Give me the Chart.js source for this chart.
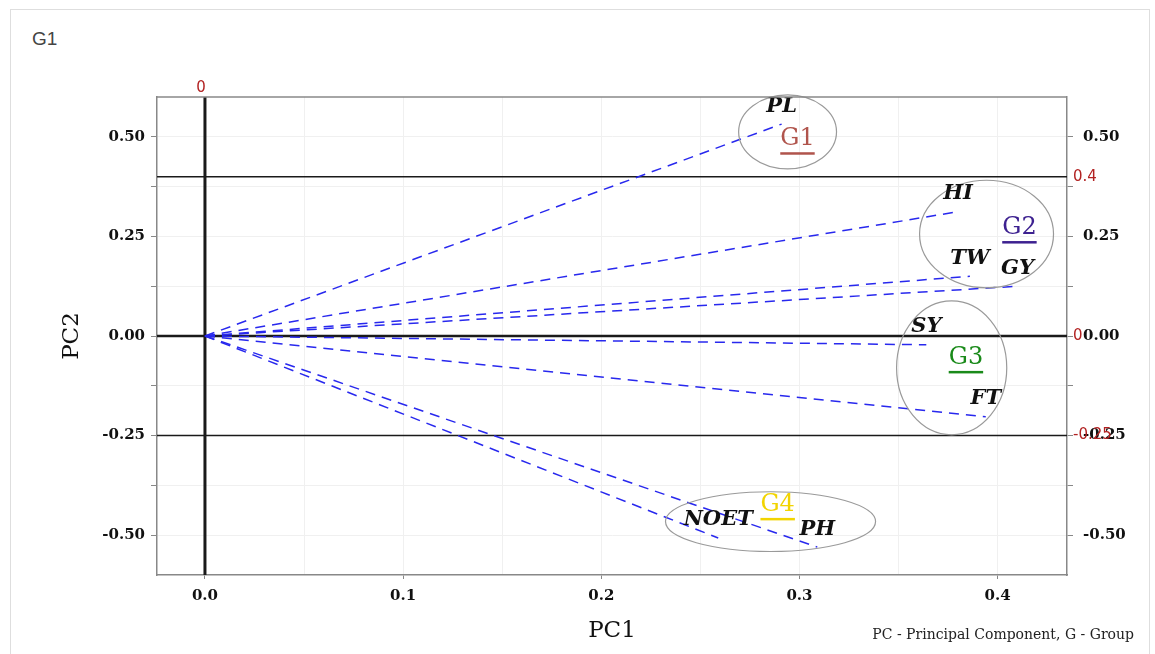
<!DOCTYPE html>
<html>
<head>
<meta charset="utf-8">
<title>G1</title>
<script src="https://cdn.jsdelivr.net/npm/chart.js@4.4.1/dist/chart.umd.min.js"></script>
<style>
    body { margin: 0; background: #fff; }
    #cadre { position: absolute; left: 10px; top: 9px; width: 1138px; height: 700px; border: 1px solid #dedede; }
    #titre { position: absolute; left: 32px; top: 28px; font: 19px "Liberation Sans", Arial, sans-serif; color: #444; }
    #zone { position: absolute; left: 0; top: 0; width: 1155px; height: 654px; }
    #note { position: absolute; right: 21px; top: 627px; font: 14px "DejaVu Serif", serif; line-height: 14px; color: #222; }
</style>
</head>
<body>
<div id="cadre"></div>
<div id="titre">G1</div>
<div id="zone"><canvas id="graphe"></canvas></div>
<div id="note">PC - Principal Component, G - Group</div>
<script>
// caracteres et coordonnees sur PC1 / PC2
const caracteres = ["PL", "HI", "TW", "GY", "SY", "FT", "NOET", "PH"];
const pc1 = [0.291, 0.380, 0.386, 0.410, 0.364, 0.394, 0.259, 0.309];
const pc2 = [0.532, 0.312, 0.150, 0.125, -0.022, -0.203, -0.507, -0.530];

// graduations
const ticksX = [0, 0.05, 0.1, 0.15, 0.2, 0.25, 0.3, 0.35, 0.4];
const ticksY = [-0.5, -0.375, -0.25, -0.125, 0, 0.125, 0.25, 0.375, 0.5];

// lignes de reference
const lignesY = [0.4, 0, -0.25];
const lignesX = [0];

// groupes (ellipses en unites des axes)
const groupes = ["G1", "G2", "G3", "G4"];
const couleursGroupes = ["#b0544c", "#3d2190", "#1a8a1a", "#f2d400"];
const groupesCx = [0.294, 0.3944, 0.3768, 0.2854];
const groupesCy = [0.5125, 0.256, -0.080, -0.466];
const groupesRx = [0.0247, 0.0338, 0.0278, 0.053];
const groupesRy = [0.093, 0.135, 0.168, 0.075];
const groupesTexteX = [0.299, 0.411, 0.384, 0.289];
const groupesTexteY = [0.494, 0.271, -0.055, -0.424];

const rouge = "#b22222";

function estMultiple(v, pas) {
    return Math.abs(v / pas - Math.round(v / pas)) < 1e-9;
}

const decor = {
    id: "decor",
    beforeDatasetsDraw(chart) {
        const { ctx, chartArea: a, scales: { x, y } } = chart;
        ctx.save();
        ctx.strokeStyle = "#1a1a1a";
        lignesY.forEach(function (v) {
            const py = y.getPixelForValue(v);
            ctx.lineWidth = v === 0 ? 2.5 : 1.5;
            ctx.beginPath();
            ctx.moveTo(a.left, py);
            ctx.lineTo(a.right, py);
            ctx.stroke();
        });
        lignesX.forEach(function (v) {
            const px = x.getPixelForValue(v);
            ctx.lineWidth = 3;
            ctx.beginPath();
            ctx.moveTo(px, a.top);
            ctx.lineTo(px, a.bottom);
            ctx.stroke();
        });
        ctx.restore();
    },
    afterDatasetsDraw(chart) {
        const { ctx, scales: { x, y } } = chart;
        ctx.save();
        // ellipses des groupes
        ctx.strokeStyle = "#9a9a9a";
        ctx.lineWidth = 1.2;
        for (let i = 0; i < groupes.length; i++) {
            const cx = x.getPixelForValue(groupesCx[i]);
            const cy = y.getPixelForValue(groupesCy[i]);
            const rx = Math.abs(x.getPixelForValue(groupesCx[i] + groupesRx[i]) - cx);
            const ry = Math.abs(y.getPixelForValue(groupesCy[i] + groupesRy[i]) - cy);
            ctx.beginPath();
            ctx.ellipse(cx, cy, rx, ry, 0, 0, Math.PI * 2);
            ctx.stroke();
        }
        // noms des caracteres
        ctx.fillStyle = "#111";
        ctx.font = "italic bold 21px 'DejaVu Serif'";
        ctx.textAlign = "center";
        ctx.textBaseline = "middle";
        for (let i = 0; i < caracteres.length; i++) {
            ctx.fillText(caracteres[i], x.getPixelForValue(pc1[i]), y.getPixelForValue(pc2[i]) - 18);
        }
        // noms des groupes soulignes
        ctx.font = "24px 'DejaVu Serif'";
        for (let i = 0; i < groupes.length; i++) {
            const px = x.getPixelForValue(groupesTexteX[i]);
            const py = y.getPixelForValue(groupesTexteY[i]);
            const w = ctx.measureText(groupes[i]).width;
            ctx.fillStyle = couleursGroupes[i];
            ctx.fillText(groupes[i], px, py);
            ctx.fillRect(px - w / 2, py + 13, w, 2.5);
        }
        ctx.restore();
    },
    afterDraw(chart) {
        const { ctx, chartArea: a, scales: { x, y } } = chart;
        ctx.save();
        // bord du haut
        ctx.strokeStyle = "#888";
        ctx.lineWidth = 1.5;
        ctx.beginPath();
        ctx.moveTo(a.left, a.top);
        ctx.lineTo(a.right, a.top);
        ctx.stroke();
        // valeurs des lignes de reference en rouge
        ctx.fillStyle = rouge;
        ctx.font = "15px 'DejaVu Sans'";
        ctx.textBaseline = "middle";
        ctx.textAlign = "left";
        lignesY.forEach(function (v) {
            ctx.fillText(String(v), a.right + 6, y.getPixelForValue(v));
        });
        ctx.textAlign = "center";
        lignesX.forEach(function (v) {
            ctx.fillText(String(v), x.getPixelForValue(v) - 4, a.top - 9);
        });
        ctx.restore();
    }
};

function init() {
    Chart.defaults.font.family = "'DejaVu Serif', serif";
    Chart.defaults.color = "#111";

    const datasets = caracteres.map(function (nom, i) {
        return {
            label: nom,
            data: [{ x: 0, y: 0 }, { x: pc1[i], y: pc2[i] }],
            showLine: true,
            borderColor: "#2828ee",
            borderWidth: 1.5,
            borderDash: [10, 7],
            pointRadius: 0,
            fill: false
        };
    });

    const policeTicks = { size: 15, weight: "bold" };

    new Chart(document.getElementById("graphe"), {
        type: "scatter",
        data: { datasets: datasets },
        plugins: [decor],
        options: {
            responsive: true,
            maintainAspectRatio: false,
            animation: false,
            layout: { padding: { left: 30, top: 97, right: 8, bottom: 9 } },
            plugins: {
                legend: { display: false },
                tooltip: { enabled: false }
            },
            scales: {
                x: {
                    type: "linear",
                    position: "bottom",
                    min: -0.0242,
                    max: 0.435,
                    afterBuildTicks: function (s) { s.ticks = ticksX.map(v => ({ value: v })); },
                    afterFit: function (s) { s.height = 70; },
                    ticks: {
                        font: policeTicks,
                        padding: 8,
                        maxRotation: 0,
                        autoSkip: false,
                        callback: function (v) { return estMultiple(v, 0.1) ? v.toFixed(1) : ""; }
                    },
                    grid: {
                        color: "#f0f0f0",
                        tickLength: 4,
                        tickColor: function (c) { return c.tick && estMultiple(c.tick.value, 0.1) ? "#888" : "rgba(0,0,0,0)"; }
                    },
                    border: { color: "#888", width: 1.5 },
                    title: {
                        display: true,
                        text: "PC1",
                        font: { size: 23 },
                        padding: { top: 0, bottom: 0 }
                    }
                },
                y: {
                    type: "linear",
                    position: "left",
                    min: -0.6,
                    max: 0.6,
                    afterBuildTicks: function (s) { s.ticks = ticksY.map(v => ({ value: v })); },
                    afterFit: function (s) { s.width = 127; },
                    ticks: {
                        font: policeTicks,
                        padding: 6,
                        autoSkip: false,
                        callback: function (v) { return estMultiple(v, 0.25) ? v.toFixed(2) : ""; }
                    },
                    grid: { color: "#f0f0f0", tickLength: 6, tickColor: "#888" },
                    border: { color: "#888", width: 1.5 },
                    title: {
                        display: true,
                        text: "PC2",
                        font: { size: 23 },
                        padding: { top: 28, bottom: 0 }
                    }
                },
                y2: {
                    type: "linear",
                    position: "right",
                    min: -0.6,
                    max: 0.6,
                    afterBuildTicks: function (s) { s.ticks = ticksY.map(v => ({ value: v })); },
                    afterFit: function (s) { s.width = 80; },
                    ticks: {
                        font: policeTicks,
                        padding: 10,
                        autoSkip: false,
                        callback: function (v) { return estMultiple(v, 0.25) ? v.toFixed(2) : ""; }
                    },
                    grid: { drawOnChartArea: false, tickLength: 6, tickColor: "#888" },
                    border: { color: "#888", width: 1.5 }
                }
            }
        }
    });
}

addEventListener("DOMContentLoaded", init);
</script>
</body>
</html>
